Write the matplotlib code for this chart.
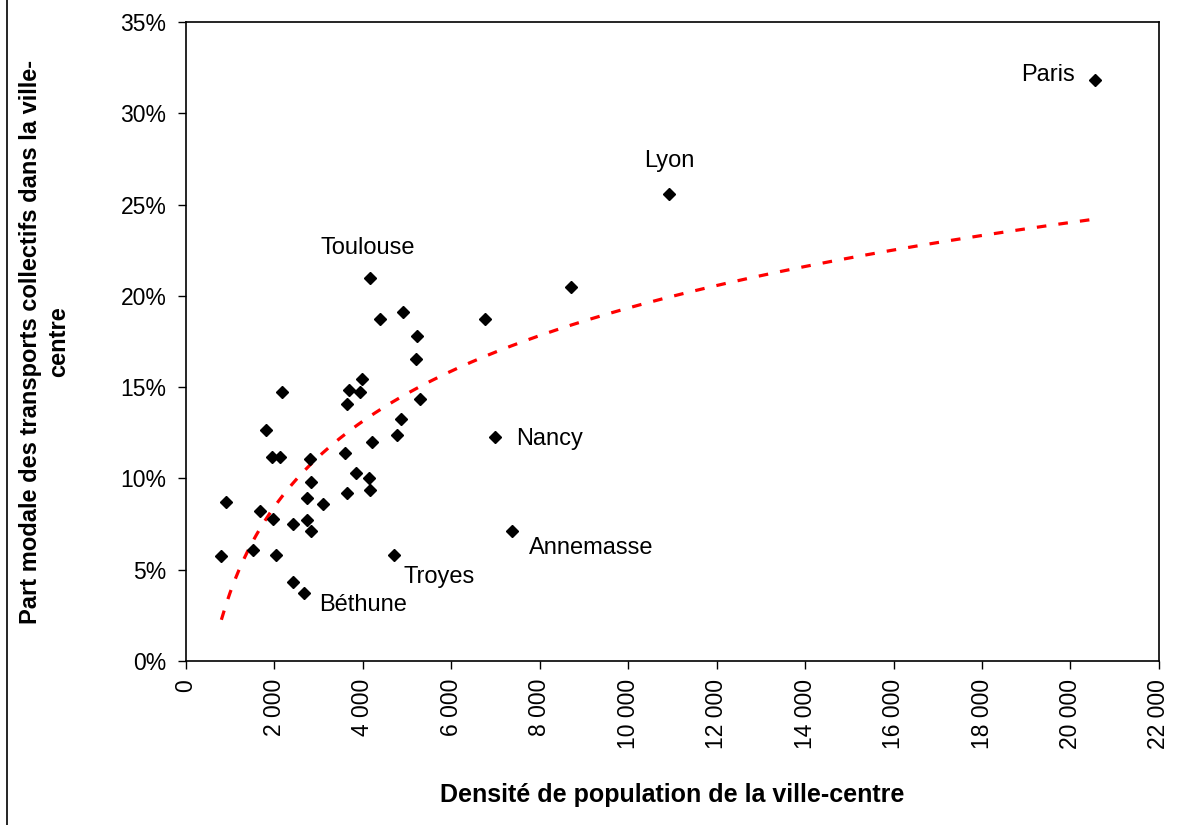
import numpy as np
import matplotlib.pyplot as plt
from matplotlib.lines import Line2D
from matplotlib.ticker import FuncFormatter

plt.rcParams['font.family'] = ['Liberation Sans', 'DejaVu Sans']

# Densité de population de la ville-centre (hab/km2)
densite = [800, 900, 1525, 1675, 1805, 1955, 1965, 2040, 2135, 2165,
           2415, 2420, 2660, 2730, 2735, 2815, 2830, 2834, 3105, 3595,
           3645, 3645, 3680, 3845, 3930, 3970, 4138, 4168, 4168, 4213,
           4378, 4703, 4780, 4861, 4913, 5200, 5230, 5290, 6753, 6993,
           7363, 8705, 10920, 20551]
# Part modale des transports collectifs (%)
part_tc = [5.75, 8.7, 6.1, 8.2, 12.65, 11.2, 7.8, 5.8, 11.2, 14.72,
           7.5, 4.33, 3.75, 7.75, 8.92, 11.07, 9.78, 7.12, 8.6, 11.37,
           9.2, 14.06, 14.84, 10.3, 14.73, 15.44, 10.01, 9.37, 20.99, 11.97,
           18.71, 5.82, 12.37, 13.24, 19.11, 16.52, 17.8, 14.35, 18.71, 12.25,
           7.12, 20.48, 25.6, 31.82]

# villes nommées
villes = ['Paris', 'Lyon', 'Toulouse', 'Nancy', 'Annemasse', 'Troyes', 'Béthune']
villes_x = [20551, 10920, 4168, 6993, 7363, 4703, 2660]
villes_y = [31.82, 25.6, 20.99, 12.25, 7.12, 5.82, 3.75]
decalages = [(-20, 5), (0, 33), (-3, 30), (21, -2), (17, -17), (10, -22), (15, -12)]
alignements = ['right', 'center', 'center', 'left', 'left', 'left', 'left']

x = np.array(densite)
y = np.array(part_tc)

fig = plt.figure(figsize=(11.9, 8.25), dpi=100)
ax = fig.add_axes([0.1563, 0.1988, 0.8176, 0.7745])

ax.plot(x, y, linestyle='none', marker='D', markersize=6.3, color='black')

# courbe de tendance logarithmique
a, b = np.polyfit(np.log(x), y, 1)
xt = np.linspace(x.min(), x.max(), 200)
ax.plot(xt, a * np.log(xt) + b, color='#FF0000', lw=2.3,
        linestyle=(0, (3.0, 3.8)), zorder=1)

for nom, vx, vy, d, al in zip(villes, villes_x, villes_y, decalages, alignements):
    ax.annotate(nom, (vx, vy), xytext=d, textcoords='offset pixels',
                ha=al, va='center', fontsize=17)

ax.set_xlim(0, 22000)
ax.set_ylim(0, 35)
ax.set_xticks(np.arange(0, 22001, 2000))
ax.set_yticks(np.arange(0, 36, 5))
ax.xaxis.set_major_formatter(FuncFormatter(lambda v, p: f'{int(v):,}'.replace(',', ' ')))
ax.yaxis.set_major_formatter(FuncFormatter(lambda v, p: f'{int(v)}%'))
ax.tick_params(axis='x', labelrotation=90, length=6, width=1, labelsize=16.5, pad=7)
ax.tick_params(axis='y', length=6, width=1, labelsize=16.5, pad=8)
for s in ax.spines.values():
    s.set_linewidth(1.2)

ax.set_xlabel('Densité de population de la ville-centre', fontsize=18,
              fontweight='bold', labelpad=24)
ax.set_ylabel('Part modale des transports collectifs dans la ville-\ncentre',
              fontsize=17, fontweight='bold', labelpad=36, linespacing=1.3)

fig.add_artist(Line2D([0.006, 0.006], [0, 1], color='black', lw=1.2))

fig.savefig('out.png', dpi=100)
